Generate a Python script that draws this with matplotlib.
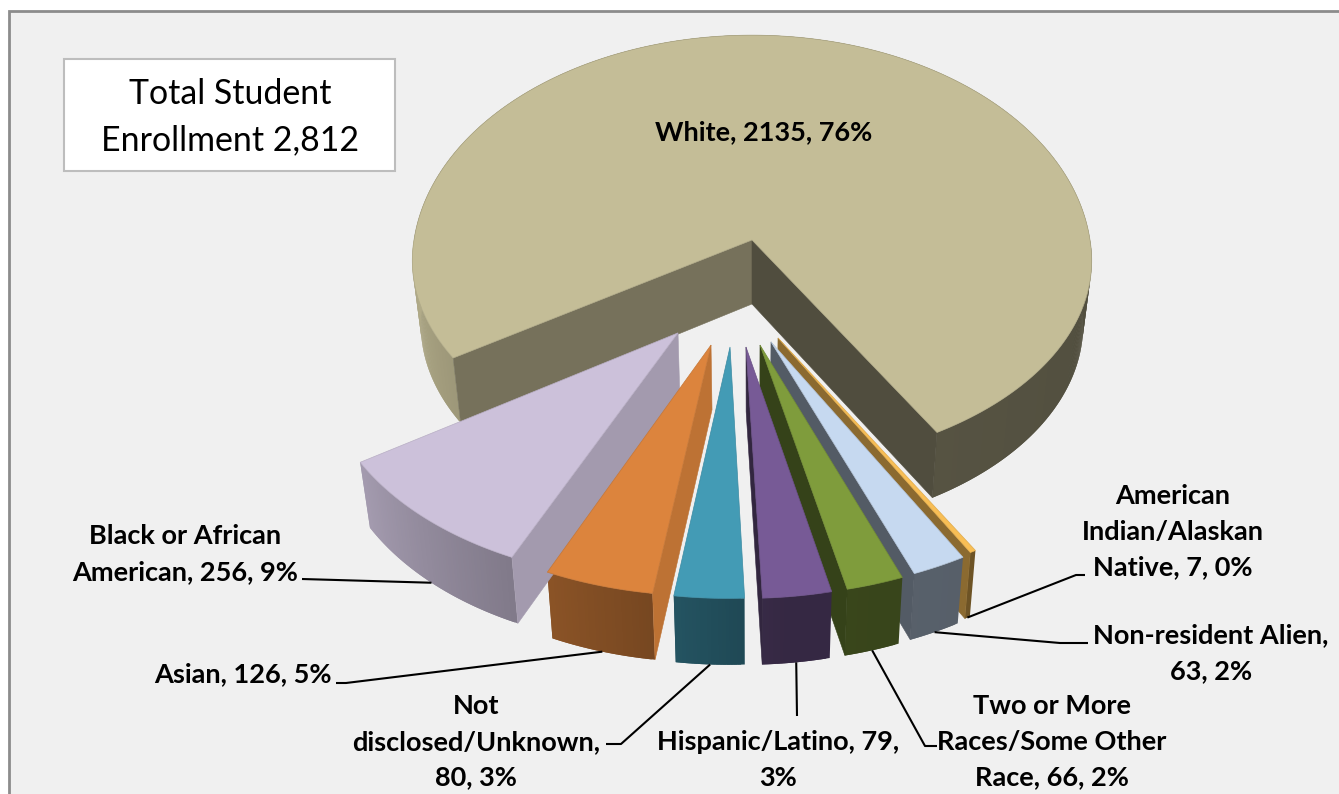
import numpy as np
import matplotlib
matplotlib.use("Agg")
import matplotlib.pyplot as plt
from matplotlib.patches import Polygon, Rectangle
from matplotlib.colors import to_rgb

# ---- data (clockwise, starting after the White slice's right-hand edge)
categories = ["American Indian/Alaskan Native", "Non-resident Alien",
              "Two or More Races/Some Other Race", "Hispanic/Latino",
              "Not disclosed/Unknown", "Asian", "Black or African American", "White"]
values = [7, 63, 66, 79, 80, 126, 256, 2135]
percents = [0, 2, 2, 3, 3, 5, 9, 76]

# ---- style
top_colors = ["#F8BE55", "#C6D9F0", "#7F9C3C", "#775A96", "#439BB5", "#DC843D", "#CCC1DA", "#C4BD97"]
# shade of the two cut faces (start edge, end edge) relative to the top
wall_shade = [(.56, .56), (.42, .42), (.42, .42), (.42, .42), (.45, .45), (.86, .86), (.80, .80), (.60, .41)]
explode_u = [.0734, .0535, .0225, -.0169, -.0618, -.1153, -.2093, 0]
explode_v = [.4605, .478, .492, .5007, .5007, .492, .4376, 0]

CX, CY, RX, RY, BACK, PERSP, H, CONV = 752, 240, 338, 203, 1.11, .10, 64, .025
START_PHI = 30.0  # degrees from the viewer toward the right


def project(u, v, z=0.0):
    u, v = np.asarray(u, float), np.asarray(v, float)
    vv = np.where(v < 0, v * BACK, v)
    w = 1 / (1 - PERSP * v)
    dx, dy = RX * u * w, RY * vv * w
    return CX + dx * (1 - CONV * z), CY + dy * (1 - CONV * z) + H * z * w


def outer_shade(phi):
    return np.interp(phi, [-90, -56, -24, -8, 5, 90], [.92, .80, .63, .54, .45, .41])


def scaled(color, f):
    return tuple(min(1, c * f) for c in to_rgb(color))


fig = plt.figure(figsize=(13.39, 7.94), dpi=100, facecolor="white")
ax = fig.add_axes([0, 0, 1, 1])
ax.set_xlim(0, 1339)
ax.set_ylim(794, 0)
ax.axis("off")

ax.add_patch(Rectangle((9, 10.5), 1400, 800, fc="#F0F0F0", ec="#8C8C8C", lw=2, zorder=0))

spans = np.array(values) / sum(values) * 360
ends = START_PHI - np.concatenate([[0], np.cumsum(spans)])
anchors = {}
for i in [7, 0, 1, 2, 3, 4, 5, 6]:
    a0, a1 = ends[i], ends[i + 1]
    phis = np.linspace(a0, a1, max(int(abs(a1 - a0)) * 2, 6))
    rad = np.radians(phis)
    eu, ev = explode_u[i], explode_v[i]
    au, av = eu + np.sin(rad), ev + np.cos(rad)
    col = top_colors[i]
    zo = 3 if i != 7 else 2
    # outer rim, in overlapping strips so the shade follows the curve without seams
    for j in range(len(phis) - 1):
        x0, y0 = project(au[j:j + 3], av[j:j + 3], 0)
        x1, y1 = project(au[j:j + 3], av[j:j + 3], 1)
        p = ((phis[j] + phis[j + 1]) / 2 + 180) % 360 - 180
        f = outer_shade(p) if abs(p) <= 90 else .6
        ax.add_patch(Polygon(np.c_[np.r_[x0, x1[::-1]], np.r_[y0, y1[::-1]]], fc=scaled(col, f), ec="none", zorder=zo))
    # cut faces: only those turned toward the viewer
    mid = np.radians((a0 + a1) / 2)
    ax_, ay_ = project(eu, ev, 0)
    mx_, my_ = project(eu + np.sin(mid), ev + np.cos(mid), 0)
    for k, (uu, vv_) in enumerate([(au[0], av[0]), (au[-1], av[-1])]):
        xt, yt = project([eu, uu], [ev, vv_], 0)
        xb, yb = project([eu, uu], [ev, vv_], 1)
        ex, ey = xt[1] - xt[0], yt[1] - yt[0]
        inside = ex * (my_ - ay_) - ey * (mx_ - ax_)
        if inside * ex >= 0:
            continue
        c = scaled(col, wall_shade[i][k])
        ax.add_patch(Polygon(np.c_[np.r_[xt, xb[::-1]], np.r_[yt, yb[::-1]]], fc=c, ec=c, lw=.4, zorder=zo))
    # top
    xs, ys = project(np.r_[eu, au], np.r_[ev, av], 0)
    ax.add_patch(Polygon(np.c_[xs, ys], fc=col, ec=scaled(col, .9), lw=.5, zorder=zo + .01))
    anchors[i] = tuple(float(t) for t in project(eu + np.sin(mid), ev + np.cos(mid), 1))

# ---- labels
FONT = "Lato"
FS = 19.5
labels = [
    ("White, 2135, 76%", 764, 132),
    ("Black or African\nAmerican, 256, 9%", 185, 554),
    ("Asian, 126, 5%", 243, 674),
    ("Not\ndisclosed/Unknown,\n80, 3%", 476, 742),
    ("Hispanic/Latino, 79,\n3%", 778, 760),
    ("Two or More\nRaces/Some Other\nRace, 66, 2%", 1052, 742),
    ("Non-resident Alien,\n63, 2%", 1211, 653),
    ("American\nIndian/Alaskan\nNative, 7, 0%", 1173, 532),
]
for txt, x, y in labels:
    ax.text(x, y, txt, ha="center", va="center", ma="center", family=FONT, weight="bold",
            fontsize=FS, linespacing=1.58, color="black", zorder=10)

leaders = {
    6: [(302, 579)], 5: [(336, 683), (346, 683)], 4: [(606, 744), (621, 744)],
    3: [(797, 716)], 2: [(937, 746), (925, 746)], 1: [(1088, 643), (1060, 643)],
    0: [(1085, 575), (1076, 575)],
}
for i, pts in leaders.items():
    xy = pts + [anchors[i]]
    ax.plot([p[0] for p in xy], [p[1] for p in xy], color="black", lw=1.5, zorder=9,
            solid_capstyle="butt")

# ---- title box
ax.add_patch(Rectangle((64, 59), 331, 112, fc="white", ec="#BDBDBD", lw=1.5, zorder=8))
ax.text(230, 117, "Total Student\nEnrollment 2,812", ha="center", va="center", ma="center",
        family=FONT, fontsize=24.4, linespacing=1.55, color="black", zorder=10)

fig.savefig("out.png", dpi=100, facecolor="white")
